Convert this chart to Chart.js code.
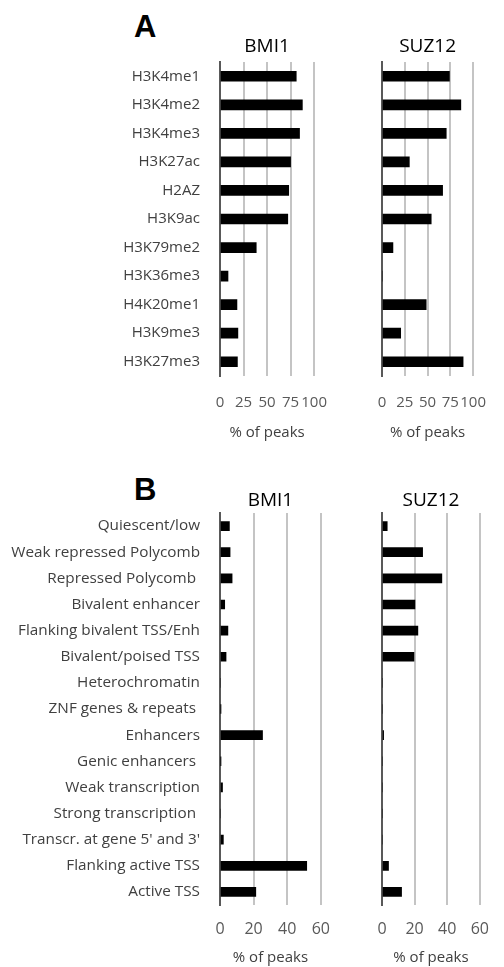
<!DOCTYPE html>
<html>
<head>
<meta charset="utf-8">
<script src="https://cdn.jsdelivr.net/npm/chart.js@4.4.0/dist/chart.umd.min.js"></script>
<style>
  body { margin: 0; background: #fff; width: 504px; height: 967px; position: relative; overflow: hidden; }
  .box { position: absolute; }
  .letter { position: absolute; font-family: "Liberation Sans", Arial, sans-serif; font-weight: bold; font-size: 31px; line-height: 1; color: #000; }
</style>
</head>
<body>
<div class="letter" style="left:134px;top:11px">A</div>
<div class="letter" style="left:134px;top:474px">B</div>
<div class="box" style="left:0;top:0;width:345px;height:450px"><canvas id="aBmi"></canvas></div>
<div class="box" style="left:340px;top:0;width:164px;height:450px"><canvas id="aSuz"></canvas></div>
<div class="box" style="left:0;top:455px;width:345px;height:512px"><canvas id="bBmi"></canvas></div>
<div class="box" style="left:340px;top:455px;width:164px;height:512px"><canvas id="bSuz"></canvas></div>
<script>
const markLabels = ["H3K4me1", "H3K4me2", "H3K4me3", "H3K27ac", "H2AZ", "H3K9ac",
  "H3K79me2", "H3K36me3", "H4K20me1", "H3K9me3", "H3K27me3"];
const markBmi1 = [81, 87.5, 84.5, 75, 73, 72, 38.5, 8.5, 18, 19, 18.5];
const markSuz12 = [74, 86.5, 70.5, 30, 66.5, 54, 12, 0, 48.5, 20.5, 89];
const markTicks = [0, 25, 50, 75, 100];

const stateLabels = ["Quiescent/low", "Weak repressed Polycomb", "Repressed Polycomb ", "Bivalent enhancer",
  "Flanking bivalent TSS/Enh", "Bivalent/poised TSS", "Heterochromatin", "ZNF genes & repeats ",
  "Enhancers", "Genic enhancers ", "Weak transcription", "Strong transcription ",
  "Transcr. at gene 5' and 3'", "Flanking active TSS", "Active TSS"];
const stateBmi1 = [5.6, 6, 7.2, 2.8, 4.7, 3.6, 0, 0.4, 25.3, 0.4, 1.5, 0, 2, 51.6, 21.3];
const stateSuz12 = [3.2, 24.9, 36.7, 20.2, 22, 19.6, 0, 0, 1, 0, 0, 0, 0, 4, 12];
const stateTicks = [0, 20, 40, 60];

const FONT = "'Open Sans', sans-serif";

// draws the protein name centred over the plot area
const areaTitle = {
  id: 'areaTitle',
  afterDraw(chart, args, opts) {
    const { ctx, chartArea } = chart;
    ctx.save();
    ctx.font = "19px " + FONT;
    ctx.fillStyle = '#000';
    ctx.textAlign = 'center';
    ctx.textBaseline = 'middle';
    ctx.fillText(opts.text, (chartArea.left + chartArea.right) / 2, opts.y);
    ctx.restore();
  }
};

function makeChart(id, labels, values, ticks, name, opt) {
  const max = ticks[ticks.length - 1];
  new Chart(document.getElementById(id), {
    type: 'bar',
    data: {
      labels: labels,
      datasets: [{ data: values, backgroundColor: '#000', borderWidth: 0, barThickness: opt.bar }]
    },
    plugins: [areaTitle],
    options: {
      indexAxis: 'y',
      responsive: true,
      maintainAspectRatio: false,
      animation: false,
      layout: { padding: { top: opt.top, right: opt.right, left: 0, bottom: 0 } },
      plugins: {
        legend: { display: false },
        tooltip: { enabled: false },
        areaTitle: { text: name, y: opt.titleY }
      },
      scales: {
        x: {
          min: 0, max: max,
          afterBuildTicks: s => { s.ticks = ticks.map(v => ({ value: v })); },
          afterFit: s => { s.height = opt.xh; },
          grid: { color: '#c4c4c4', lineWidth: 2, drawTicks: false },
          border: { display: false },
          ticks: { color: '#595959', font: { family: FONT, size: opt.tickSize }, padding: opt.tickPad, maxRotation: 0, autoSkip: false },
          title: { display: true, text: '% of peaks', color: '#404040', font: { family: FONT, size: 15 }, padding: { top: 0, bottom: opt.titlePad } }
        },
        y: {
          afterFit: s => { s.width = opt.yw; },
          grid: { display: false },
          border: { color: '#595959', width: 2 },
          ticks: { display: opt.showLabels, color: '#404040', font: { family: FONT, size: opt.labelSize }, padding: 12, autoSkip: false }
        }
      }
    }
  });
}

makeChart('aBmi', markLabels, markBmi1, markTicks, 'BMI1',
  { top: 62, right: 19, xh: 74, yw: 220, bar: 10, titleY: 47, tickSize: 15, tickPad: 18, titlePad: 8, showLabels: true, labelSize: 15 });
makeChart('aSuz', markLabels, markSuz12, markTicks, 'SUZ12',
  { top: 62, right: 15, xh: 74, yw: 42, bar: 10, titleY: 47, tickSize: 15, tickPad: 18, titlePad: 8, showLabels: false, labelSize: 15 });
makeChart('bBmi', stateLabels, stateBmi1, stateTicks, 'BMI1',
  { top: 58, right: 19, xh: 62, yw: 220, bar: 9, titleY: 46, tickSize: 16, tickPad: 15, titlePad: 0, showLabels: true, labelSize: 15.3 });
makeChart('bSuz', stateLabels, stateSuz12, stateTicks, 'SUZ12',
  { top: 58, right: 15, xh: 62, yw: 42, bar: 9, titleY: 46, tickSize: 16, tickPad: 15, titlePad: 0, showLabels: false, labelSize: 15.3 });
</script>
</body>
</html>
